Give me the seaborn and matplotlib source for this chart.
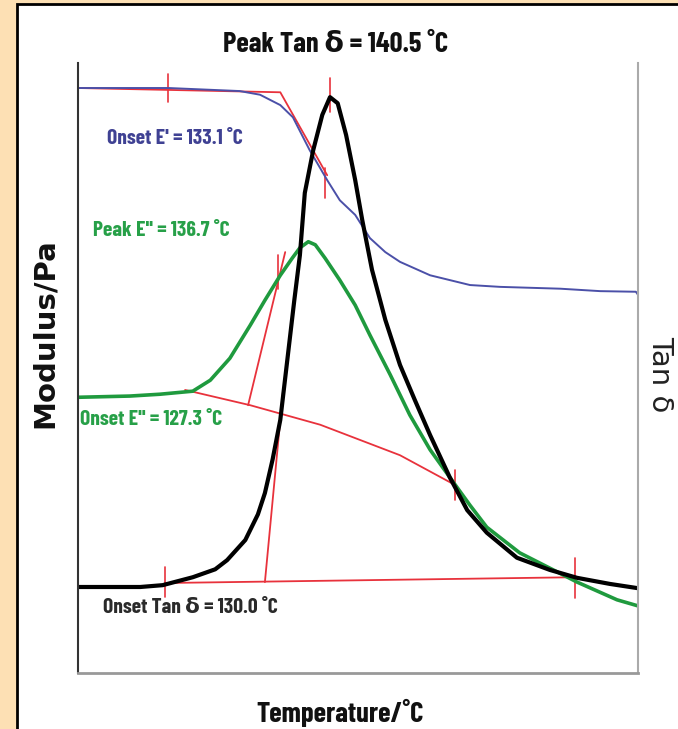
import numpy as np
import pandas as pd
import matplotlib
matplotlib.use("Agg")
import matplotlib.pyplot as plt
import matplotlib.patches as patches
import seaborn as sns

# curves (x = temperature, y = signal in % of axis height)
temp_storage = [100, 112.9, 123.1, 126.0, 128.9, 130.7, 133.1, 135.6, 137.4, 139.6,
                141.7, 143.9, 146.0, 150.3, 156.0, 160.3, 168.9, 174.6, 179.7, 180]
storage = [95.9, 95.9, 95.4, 94.8, 93.1, 91.1, 85.7, 80.8, 77.5, 75.1,
           71.3, 69.0, 67.4, 65.2, 63.6, 63.3, 63.0, 62.6, 62.5, 62.0]

temp_tan = [100, 108.9, 112.1, 116.4, 119.6, 121.3, 123.9, 125.7, 126.7, 127.8, 128.9,
            129.9, 130.9, 131.7, 132.4, 133.6, 134.9, 136.0, 137.1, 138.3, 139.6,
            140.6, 142.0, 143.9, 146.0, 148.1, 150.3, 153.1, 155.6, 158.4, 162.7,
            167.4, 171.3, 176.0, 180]
tan_delta = [14.1, 14.1, 14.4, 15.7, 17.0, 18.5, 21.8, 26.0, 29.5, 35.0, 41.5,
             51.3, 61.1, 68.5, 78.7, 85.7, 91.5, 94.4, 93.4, 88.2, 80.8,
             74.3, 66.1, 57.9, 50.5, 44.8, 39.0, 32.1, 26.7, 23.0, 18.9,
             16.9, 15.6, 14.6, 13.9]

temp_loss = [100, 107.4, 111.7, 116.4, 118.9, 121.7, 124.6, 126.7, 128.9, 130.6,
             131.7, 132.9, 133.9, 135.3, 137.4, 139.6, 141.7, 144.6, 147.4, 150.3,
             153.1, 156.0, 158.4, 163.1, 167.9, 171.3, 177.0, 180]
loss = [45.2, 45.4, 45.7, 46.2, 48.0, 51.6, 57.0, 61.1, 65.2, 68.0,
        69.7, 70.7, 70.2, 68.0, 64.4, 60.3, 55.4, 48.9, 42.3, 36.6,
        32.1, 27.5, 23.9, 19.7, 16.9, 14.9, 12.0, 11.0]

# red construction lines (baselines and tangents)
constructions = {
    "storage": ([100, 128.9, 135.6], [95.9, 95.2, 81.6]),
    "loss_base": ([115.3, 124.6, 134.6, 146.0, 153.9], [46.4, 43.9, 40.7, 35.7, 30.8]),
    "loss_tangent": ([124.3, 129.6], [43.9, 69.0]),
    "tan_base": ([112.4, 171.0], [14.75, 15.7]),
    "tan_tangent": ([126.7, 129.3], [14.9, 46.4]),
}
# red marker ticks (temperature, level, half-height)
tick_temp = [112.9, 136.0, 135.3, 128.6, 153.9, 112.4, 171.0]
tick_level = [95.9, 94.8, 80.3, 65.7, 30.8, 14.9, 15.6]
tick_half = [2.3, 2.8, 2.5, 2.8, 2.5, 2.5, 3.3]

labels = ["Onset E' = 133.1 \u02daC", "Peak E'' = 136.7 \u02daC",
          "Onset E'' = 127.3 \u02daC", "Onset Tan \u03b4 = 130.0 \u02daC"]
label_x = [104.1, 102.1, 100.3, 103.6]
label_y = [87.7, 72.6, 41.5, 10.8]
label_colors = ["#3f4193", "#27a048", "#27a048", "#2a2a2a"]

sns.set_theme(style="white")
narrow = ["Barlow Condensed", "DejaVu Sans"]

fig = plt.figure(figsize=(6.78, 7.29), dpi=100)
fig.patch.set_facecolor("#fde0b4")
panel = patches.Rectangle((17 / 678, -0.1), 1.2, (729 - 4) / 729 + 0.1,
                          transform=fig.transFigure, facecolor="white",
                          edgecolor="black", linewidth=2, zorder=-5)
fig.patches.append(panel)
ax = fig.add_axes([78 / 678, 56 / 729, 560 / 678, 610 / 729], zorder=2)
ax.set_facecolor("none")

red = "#e8323c"
for name, (xs, ys) in constructions.items():
    sns.lineplot(x=xs, y=ys, ax=ax, color=red, linewidth=1.3, sort=False,
                 estimator=None)
for t, lv, h in zip(tick_temp, tick_level, tick_half):
    ax.plot([t, t], [lv - h, lv + h], color=red, linewidth=1.2)

sns.lineplot(x=temp_storage, y=storage, ax=ax, color="#4b50a8", linewidth=1.4,
             estimator=None)
sns.lineplot(x=temp_loss, y=loss, ax=ax, color="#1f9a3e", linewidth=2.6,
             estimator=None)
sns.lineplot(x=temp_tan, y=tan_delta, ax=ax, color="black", linewidth=3,
             estimator=None)

for s, x, y, c in zip(labels, label_x, label_y, label_colors):
    ax.text(x, y, s, color=c, fontsize=15.5, fontweight="bold", family=narrow,
            ha="left", va="center")

ax.set_xlim(100, 180)
ax.set_ylim(0, 100)
ax.set_xticks([])
ax.set_yticks([])
ax.spines["top"].set_visible(False)
ax.spines["left"].set_color("#333333")
ax.spines["left"].set_linewidth(1.5)
ax.spines["bottom"].set_color("#999999")
ax.spines["bottom"].set_linewidth(2)
ax.spines["right"].set_color("#aaaaaa")
ax.spines["right"].set_linewidth(1.5)

ax.text(0.46, 1.03, "Peak Tan \u03b4 = 140.5 \u02daC", transform=ax.transAxes,
        fontsize=20.5, fontweight="bold", family=narrow, ha="center", va="center",
        color="#111111")
ax.text(0.468, -0.066, "Temperature/\u02daC", transform=ax.transAxes,
        fontsize=20.5, fontweight="bold", family=narrow, ha="center", va="center",
        color="#111111")
ax.text(-0.059, 0.557, "Modulus/Pa", transform=ax.transAxes, rotation=90,
        fontsize=21, fontweight="bold", family=["DejaVu Sans"], ha="center",
        va="center", color="#111111")
ax.text(1.04, 0.49, "Tan \u03b4", transform=ax.transAxes, rotation=270,
        fontsize=21, family=["DejaVu Sans"], ha="center", va="center",
        color="#222222")

fig.savefig("out.png", dpi=100, facecolor=fig.get_facecolor())
